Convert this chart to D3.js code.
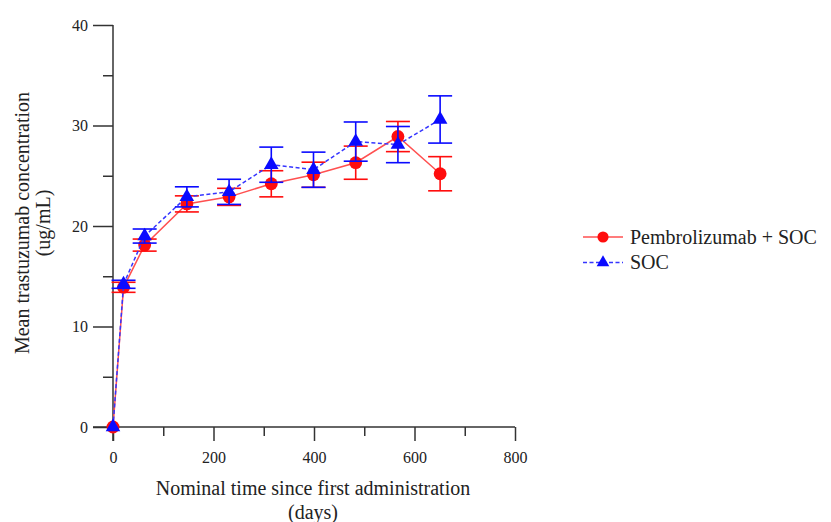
<!DOCTYPE html>
<html>
<head>
<meta charset="utf-8">
<script src="https://cdn.jsdelivr.net/npm/d3@7"></script>
<style>
  html, body { margin: 0; padding: 0; background: #fff; }
  svg { display: block; }
  text { font-family: "Liberation Serif", "DejaVu Serif", serif; fill: #222; }
</style>
</head>
<body>
<svg id="chart" width="831" height="522"></svg>
<script>
// Nominal sampling days (every third 21-day cycle after the first two visits)
const days = [0, 21, 63, 147, 231, 315, 399, 483, 567, 651];

// Pembrolizumab + SOC arm: mean concentration and error half-width (ug/mL)
const pembroMean = [0, 13.9, 18.1, 22.2, 22.9, 24.2, 25.1, 26.3, 28.9, 25.2];
const pembroErr  = [0, 0.5, 0.6, 0.8, 0.85, 1.3, 1.25, 1.65, 1.5, 1.7];

// SOC arm
const socMean = [0, 14.2, 19.0, 22.9, 23.4, 26.1, 25.6, 28.4, 28.1, 30.6];
const socErr  = [0, 0.4, 0.7, 1.0, 1.25, 1.75, 1.75, 1.95, 1.8, 2.35];

const xTicks = [0, 200, 400, 600, 800];
const xMinorTicks = [100, 300, 500, 700];
const yTicks = [0, 10, 20, 30, 40];
const yMinorTicks = [5, 15, 25, 35];

const seriesNames = ["Pembrolizumab + SOC", "SOC"];

const svg = d3.select("#chart");
const plotLeft = 113, plotRight = 515, plotTop = 25, plotBottom = 427;

const x = d3.scaleLinear().domain([0, 800]).range([plotLeft, plotRight]);
const y = d3.scaleLinear().domain([0, 40]).range([plotBottom, plotTop]);

const axisColor = "#333";

// Y axis: long major ticks, short minor ticks
const yAxis = svg.append("g").attr("transform", `translate(${plotLeft},0)`);
yAxis.call(d3.axisLeft(y).tickValues(yTicks).tickSize(20).tickPadding(5).tickFormat(d3.format("d")));
yAxis.append("g").call(d3.axisLeft(y).tickValues(yMinorTicks).tickSize(10).tickFormat(""));
yAxis.selectAll(".domain").remove();
yAxis.append("line").attr("x1", 0).attr("x2", 0).attr("y1", plotTop).attr("y2", plotBottom + 14)
  .attr("stroke", axisColor).attr("stroke-width", 1.5);

// X axis
const xAxis = svg.append("g").attr("transform", `translate(0,${plotBottom})`);
xAxis.call(d3.axisBottom(x).tickValues(xTicks).tickSize(14).tickPadding(11).tickFormat(d3.format("d")));
xAxis.append("g").call(d3.axisBottom(x).tickValues(xMinorTicks).tickSize(9).tickFormat(""));
xAxis.selectAll(".domain").remove();
xAxis.append("line").attr("x1", plotLeft - 20).attr("x2", plotRight).attr("y1", 0).attr("y2", 0)
  .attr("stroke", axisColor).attr("stroke-width", 1.5);

svg.selectAll(".tick line").attr("stroke", axisColor).attr("stroke-width", 1.5);
svg.selectAll(".tick text").attr("font-size", 16).attr("fill", "#333")
  .attr("font-family", "Liberation Serif, serif");

// Axis titles
svg.append("text").attr("x", 313).attr("y", 495).attr("text-anchor", "middle")
  .attr("font-size", 20).text("Nominal time since first administration");
svg.append("text").attr("x", 313).attr("y", 519).attr("text-anchor", "middle")
  .attr("font-size", 20).text("(days)");
svg.append("text").attr("transform", "translate(29,223) rotate(-90)").attr("text-anchor", "middle")
  .attr("font-size", 20).text("Mean trastuzumab concentration");
svg.append("text").attr("transform", "translate(50,223) rotate(-90)").attr("text-anchor", "middle")
  .attr("font-size", 20).text("(ug/mL)");

const series = [
  { name: seriesNames[0], mean: pembroMean, err: pembroErr, color: "#ff0d0d", lineColor: "#ff5050", dash: null, symbol: d3.symbolCircle, size: 130 },
  { name: seriesNames[1], mean: socMean, err: socErr, color: "#0a0aff", lineColor: "#3535ff", dash: "4,2.5", symbol: d3.symbolTriangle, size: 92 }
];

const line = d3.line().x(d => x(d.t)).y(d => y(d.v));
const capHalf = 12;

series.forEach(s => {
  const pts = days.map((t, i) => ({ t, v: s.mean[i], e: s.err[i] }));
  const g = svg.append("g");
  g.append("path").datum(pts).attr("d", line).attr("fill", "none")
    .attr("stroke", s.lineColor).attr("stroke-width", 1.5)
    .attr("stroke-dasharray", s.dash);
  const eb = g.selectAll(".eb").data(pts.filter(p => p.e > 0)).join("g")
    .attr("stroke", s.color).attr("stroke-width", 1.6);
  eb.append("line").attr("x1", d => x(d.t)).attr("x2", d => x(d.t))
    .attr("y1", d => y(d.v - d.e)).attr("y2", d => y(d.v + d.e));
  eb.append("line").attr("x1", d => x(d.t) - capHalf).attr("x2", d => x(d.t) + capHalf)
    .attr("y1", d => y(d.v + d.e)).attr("y2", d => y(d.v + d.e));
  eb.append("line").attr("x1", d => x(d.t) - capHalf).attr("x2", d => x(d.t) + capHalf)
    .attr("y1", d => y(d.v - d.e)).attr("y2", d => y(d.v - d.e));
  g.selectAll(".mk").data(pts).join("path")
    .attr("transform", d => `translate(${x(d.t)},${y(d.v)})`)
    .attr("d", d3.symbol().type(s.symbol).size(s.size))
    .attr("fill", s.color);
});

// Legend
const legend = svg.append("g");
series.forEach((s, i) => {
  const ly = 237 + i * 25.5;
  legend.append("line").attr("x1", 583).attr("x2", 623).attr("y1", ly).attr("y2", ly)
    .attr("stroke", s.lineColor).attr("stroke-width", 1.5).attr("stroke-dasharray", s.dash);
  legend.append("path").attr("transform", `translate(603,${ly})`)
    .attr("d", d3.symbol().type(s.symbol).size(s.size * 0.75)).attr("fill", s.color);
  legend.append("text").attr("x", 630).attr("y", ly + 6.5).attr("font-size", 20).text(s.name);
});
</script>
</body>
</html>
